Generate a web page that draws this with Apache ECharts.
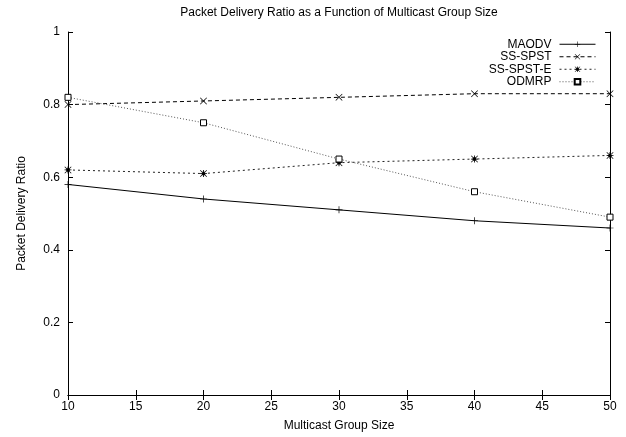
<!DOCTYPE html>
<html><head><meta charset="utf-8">
<script src="https://cdn.jsdelivr.net/npm/echarts@6/dist/echarts.min.js"></script>
<style>html,body{margin:0;padding:0;background:#fff}#c{width:626px;height:437px}</style>
</head><body><div id="c"></div>
<script>
const groupSizes = [10, 20, 30, 40, 50];
const maodv = [0.58, 0.54, 0.51, 0.48, 0.46];
const ssSpst = [0.80, 0.81, 0.82, 0.83, 0.83];
const ssSpstE = [0.62, 0.61, 0.64, 0.65, 0.66];
const odmrp = [0.82, 0.75, 0.65, 0.56, 0.49];
const seriesNames = ['MAODV', 'SS-SPST', 'SS-SPST-E', 'ODMRP'];

const FONT = 'Liberation Sans';
const plus = 'path://M0,4.5H10V5.5H0Z M4.5,0H5.5V10H4.5Z';
const cross = 'path://M0.7,0L5,4.3L9.3,0L10,0.7L5.7,5L10,9.3L9.3,10L5,5.7L0.7,10L0,9.3L4.3,5L0,0.7Z';
const star = 'path://M0.7,0L5,4.3L9.3,0L10,0.7L5.7,5L10,9.3L9.3,10L5,5.7L0.7,10L0,9.3L4.3,5L0,0.7Z M0,4.4H10V5.6H0Z M4.4,0H5.6V10H4.4Z M2.5,2.5H7.5V7.5H2.5Z';

function pairs(arr){ return groupSizes.map((g,i)=>[g, arr[i]]); }

const chart = echarts.init(document.getElementById('c'), null, {renderer:'canvas'});
const axisLine = {show:true, lineStyle:{color:'#000', width:1}};
const tick = {show:true, inside:true, length:5, lineStyle:{color:'#000'}};
chart.setOption({
  animation:false,
  backgroundColor:'#fff',
  textStyle:{fontFamily:FONT},
  title:{text:'Packet Delivery Ratio as a Function of Multicast Group Size', left:339, top:7, padding:0, textAlign:'center',
    textStyle:{fontFamily:FONT, fontSize:12, fontWeight:'normal', color:'#000'}},
  grid:{left:68, right:16, top:32, bottom:41},
  legend:{
    orient:'vertical', right:30, top:38, align:'right', itemGap:0,
    itemWidth:36, itemHeight:7, padding:0,
    lineStyle:{width:1},
    textStyle:{fontFamily:FONT, fontSize:12, color:'#000', lineHeight:12.5, padding:[0,3,0,0]},
    data:seriesNames
  },
  xAxis:[
    {type:'value', min:10, max:50, interval:5, name:'Multicast Group Size', nameLocation:'middle', nameGap:25,
     nameTextStyle:{fontFamily:FONT, fontSize:12, color:'#000'},
     axisLine:axisLine, axisTick:tick, splitLine:{show:false},
     axisLabel:{fontFamily:FONT, fontSize:12, color:'#000', margin:6}},
    {type:'value', min:10, max:50, interval:5, position:'top',
     axisLine:axisLine, axisTick:tick, splitLine:{show:false}, axisLabel:{show:false}}
  ],
  yAxis:[
    {type:'value', min:0, max:1, interval:0.2, name:'Packet Delivery Ratio', nameLocation:'middle', nameGap:40,
     nameTextStyle:{fontFamily:FONT, fontSize:12, color:'#000'},
     axisLine:axisLine, axisTick:tick, splitLine:{show:false},
     axisLabel:{fontFamily:FONT, fontSize:12, color:'#000', margin:8, formatter:v=>String(Math.round(v*10)/10)}},
    {type:'value', min:0, max:1, interval:0.2, position:'right',
     axisLine:axisLine, axisTick:tick, splitLine:{show:false}, axisLabel:{show:false}}
  ],
  series:[
    {name:'MAODV', type:'line', data:pairs(maodv), symbol:plus, symbolSize:7,
     lineStyle:{color:'#000', width:1, type:'solid'}, itemStyle:{color:'#000'}},
    {name:'SS-SPST', type:'line', data:pairs(ssSpst), symbol:cross, symbolSize:7,
     lineStyle:{color:'#000', width:1, type:[4,3]}, itemStyle:{color:'#000'}},
    {name:'SS-SPST-E', type:'line', data:pairs(ssSpstE), symbol:star, symbolSize:7,
     lineStyle:{color:'#222', width:1, type:[2,3]}, itemStyle:{color:'#000'}},
    {name:'ODMRP', type:'line', data:pairs(odmrp), symbol:'rect', symbolSize:6,
     lineStyle:{color:'#555', width:1, type:[1,2]}, itemStyle:{color:'#fff', borderColor:'#000', borderWidth:1}}
  ]
});
</script></body></html>
